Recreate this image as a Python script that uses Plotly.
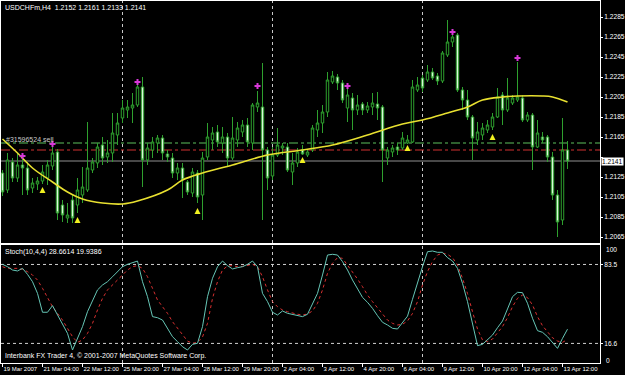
import plotly.graph_objects as go

# ---------------- data ----------------
bars = list(range(114))

open_ = [1.2129,1.2112,1.2140,1.2124,1.2137,1.2134,1.2114,1.2118,1.2121,1.2124,
         1.2136,1.2150,1.2097,1.2084,1.2102,1.2097,1.2107,1.2112,1.2132,1.2139,
         1.2157,1.2145,1.2149,1.2167,1.2184,1.2192,1.2194,1.2197,1.2215,1.2142,
         1.2152,1.2159,1.2164,1.2148,1.2144,1.2129,1.2134,1.2120,1.2109,1.2129,
         1.2107,1.2145,1.2162,1.2170,1.2159,1.2165,1.2144,1.2162,1.2170,1.2177,
         1.2159,1.2195,1.2195,1.2152,1.2126,1.2147,1.2154,1.2155,1.2130,1.2139,
         1.2152,1.2147,1.2152,1.2172,1.2179,1.2190,1.2220,1.2225,1.2219,1.2194,
         1.2204,1.2192,1.2198,1.2192,1.2195,1.2198,1.2195,1.2144,1.2150,1.2155,
         1.2154,1.2159,1.2160,1.2212,1.2224,1.2222,1.2230,1.2226,1.2221,1.2247,
         1.2260,1.2267,1.2212,1.2202,1.2185,1.2162,1.2167,1.2172,1.2175,1.2185,
         1.2207,1.2192,1.2199,1.2202,1.2204,1.2182,1.2187,1.2155,1.2165,1.2165,
         1.2145,1.2107,1.2082,1.2152]
high = [1.2132,1.2149,1.2144,1.2149,1.2144,1.2140,1.2124,1.2125,1.2137,1.2142,
        1.2155,1.2153,1.2102,1.2099,1.2107,1.2124,1.2135,1.2180,1.2144,1.2159,
        1.2165,1.2162,1.2189,1.2189,1.2202,1.2202,1.2209,1.2218,1.2225,1.2159,
        1.2165,1.2167,1.2167,1.2152,1.2149,1.2139,1.2139,1.2122,1.2134,1.2132,
        1.2150,1.2179,1.2175,1.2177,1.2175,1.2169,1.2185,1.2180,1.2182,1.2184,
        1.2199,1.2211,1.2239,1.2155,1.2155,1.2174,1.2159,1.2159,1.2149,1.2154,
        1.2157,1.2153,1.2177,1.2192,1.2197,1.2230,1.2231,1.2228,1.2222,1.2213,
        1.2209,1.2207,1.2200,1.2200,1.2209,1.2210,1.2197,1.2155,1.2157,1.2159,
        1.2170,1.2167,1.2222,1.2225,1.2227,1.2237,1.2234,1.2229,1.2251,1.2282,
        1.2267,1.2269,1.2215,1.2212,1.2187,1.2180,1.2179,1.2182,1.2189,1.2214,
        1.2210,1.2224,1.2207,1.2240,1.2207,1.2190,1.2189,1.2182,1.2170,1.2167,
        1.2150,1.2112,1.2184,1.2161]
low = [1.2106,1.2109,1.2120,1.2120,1.2107,1.2107,1.2109,1.2112,1.2118,1.2117,
       1.2132,1.2082,1.2080,1.2079,1.2079,1.2089,1.2099,1.2110,1.2129,1.2134,
       1.2137,1.2139,1.2140,1.2157,1.2179,1.2184,1.2179,1.2195,1.2115,1.2137,
       1.2144,1.2149,1.2142,1.2140,1.2124,1.2122,1.2104,1.2107,1.2105,1.2099,
       1.2082,1.2142,1.2152,1.2155,1.2149,1.2135,1.2142,1.2155,1.2165,1.2155,
       1.2152,1.2190,1.2082,1.2112,1.2122,1.2145,1.2147,1.2130,1.2117,1.2135,
       1.2147,1.2145,1.2150,1.2165,1.2169,1.2185,1.2218,1.2212,1.2199,1.2180,
       1.2172,1.2187,1.2187,1.2189,1.2187,1.2182,1.2120,1.2137,1.2145,1.2147,
       1.2152,1.2158,1.2159,1.2210,1.2210,1.2220,1.2222,1.2217,1.2219,1.2245,
       1.2255,1.2210,1.2192,1.2182,1.2142,1.2157,1.2162,1.2169,1.2172,1.2184,
       1.2177,1.2190,1.2197,1.2200,1.2180,1.2180,1.2132,1.2154,1.2159,1.2140,
       1.2102,1.2065,1.2077,1.2133]
close = [1.2110,1.2142,1.2124,1.2137,1.2134,1.2112,1.2119,1.2121,1.2130,1.2137,
         1.2149,1.2089,1.2087,1.2087,1.2084,1.2112,1.2115,1.2134,1.2140,1.2155,
         1.2144,1.2149,1.2169,1.2179,1.2194,1.2195,1.2197,1.2215,1.2142,1.2154,
         1.2160,1.2164,1.2149,1.2145,1.2129,1.2134,1.2122,1.2110,1.2130,1.2105,
         1.2144,1.2165,1.2169,1.2160,1.2165,1.2144,1.2164,1.2174,1.2177,1.2160,
         1.2197,1.2199,1.2152,1.2124,1.2147,1.2157,1.2156,1.2132,1.2139,1.2150,
         1.2148,1.2150,1.2174,1.2179,1.2190,1.2222,1.2226,1.2219,1.2202,1.2207,
         1.2192,1.2197,1.2192,1.2196,1.2199,1.2194,1.2152,1.2152,1.2154,1.2152,
         1.2164,1.2162,1.2215,1.2217,1.2214,1.2230,1.2224,1.2221,1.2249,1.2260,
         1.2265,1.2212,1.2202,1.2185,1.2164,1.2170,1.2174,1.2177,1.2185,1.2205,
         1.2192,1.2204,1.2204,1.2205,1.2182,1.2187,1.2155,1.2169,1.2162,1.2145,
         1.2107,1.2080,1.2152,1.2141]

ma_bars = [0, 3, 6, 10, 13, 16, 20, 24, 27, 33, 36, 40, 46, 53, 60, 66, 73,
           80, 84, 89, 93, 96, 100, 103, 108, 110, 113]
ma_vals = [1.2163, 1.2149, 1.2134, 1.2120, 1.2110, 1.2103, 1.2099, 1.2098,
           1.2101, 1.2112, 1.2122, 1.2129, 1.2137, 1.2147, 1.2152, 1.2157,
           1.2167, 1.2178, 1.2182, 1.2189, 1.2195, 1.2202, 1.2205, 1.2206,
           1.2206, 1.2205, 1.2200]

sell_bars = [4, 10, 27, 51, 69, 90, 103]
sell_price = [1.2146, 1.2158, 1.2220, 1.2216, 1.2216, 1.2270, 1.2244]
buy_bars = [8, 15, 39, 60, 81, 98]
buy_price = [1.2115, 1.2085, 1.2094, 1.2145, 1.2157, 1.2168]

stoch_main = [83.6,81.6,78.8,78.0,80.2,75.1,68.9,59.0,43.0,43.0,
              48.6,40.7,33.6,25.1,11.0,20.9,30.8,43.5,52.0,61.9,
              66.1,68.9,73.1,77.4,81.6,83.6,85.3,86.4,68.9,56.2,
              39.3,38.4,36.4,29.4,22.3,18.1,13.8,11.0,15.8,16.7,
              30.8,56.2,71.8,81.6,86.4,82.5,79.7,80.8,81.6,83.6,
              86.4,81.6,59.0,52.0,43.0,40.7,44.1,42.1,41.3,40.7,
              39.3,41.3,49.7,59.0,74.6,91.5,92.1,91.5,85.9,78.8,
              70.3,62.7,55.6,51.4,46.3,40.1,34.5,32.2,29.4,28.8,
              34.0,39.7,54.0,68.9,81.6,94.3,94.9,93.8,93.8,89.3,
              86.4,80.2,67.5,52.0,33.6,14.7,15.8,20.1,23.7,29.9,
              35.6,45.8,56.2,59.9,59.6,50.6,37.9,27.4,26.0,22.3,
              17.5,12.4,20.9,28.66]
stoch_signal = [81.6,80.2,80.2,80.2,79.4,77.4,74.6,70.3,63.3,54.8,
                47.7,42.1,36.4,29.4,22.3,17.5,19.5,25.1,33.6,44.9,
                54.8,61.9,66.1,70.3,74.6,78.8,81.6,82.5,80.2,73.1,
                63.3,53.4,47.7,42.1,35.0,29.4,23.7,18.6,16.7,17.5,
                22.0,33.6,54.8,68.9,78.8,82.2,82.5,81.6,81.9,83.0,
                83.6,81.6,73.1,61.9,52.0,47.7,44.9,43.5,42.1,41.3,
                40.7,41.5,44.1,50.6,61.9,76.0,84.5,89.3,88.7,83.0,
                76.8,71.2,64.7,57.6,52.0,46.9,41.3,36.4,33.6,32.2,
                32.8,35.6,42.0,52.0,66.1,77.4,85.9,91.5,93.0,92.1,
                89.3,83.0,71.8,59.0,43.5,28.8,19.5,18.1,20.3,25.1,
                30.8,38.4,47.7,54.8,57.6,55.4,49.2,39.3,31.6,26.5,
                21.4,18.6,17.5,19.94]

price_ticks = [1.2065, 1.2085, 1.2105, 1.2125, 1.2145, 1.2165,
               1.2185, 1.2205, 1.2225, 1.2245, 1.2265, 1.2285]
time_tick_bars = [0, 8, 16, 24, 32, 40, 48, 56, 64, 72, 80, 88, 96, 104, 112]
time_tick_text = ["19 Mar 2007", "21 Mar 04:00", "22 Mar 12:00", "25 Mar 20:00",
                  "27 Mar 04:00", "28 Mar 12:00", "29 Mar 20:00", "2 Apr 04:00",
                  "3 Apr 12:00", "4 Apr 20:00", "6 Apr 04:00", "9 Apr 12:00",
                  "10 Apr 20:00", "12 Apr 04:00", "13 Apr 12:00"]
week_sep_bars = [24, 54, 84]
order_line = 1.2159
stop_line = 1.2152
bid_line = 1.2141
stoch_levels = [83.5, 16.6]

# ---------------- figure ----------------
FONT = "Liberation Sans Narrow, Arial Narrow, Liberation Sans, Arial, sans-serif"
GREEN = "#2ea02e"

fig = go.Figure()
fig.add_trace(go.Candlestick(
    x=bars, open=open_, high=high, low=low, close=close,
    increasing=dict(line=dict(color=GREEN, width=1), fillcolor="#000000"),
    decreasing=dict(line=dict(color=GREEN, width=1), fillcolor="#d8f8d8"),
    whiskerwidth=0, xaxis="x", yaxis="y", showlegend=False, hoverinfo="skip"))
fig.add_trace(go.Scatter(x=ma_bars, y=ma_vals, mode="lines",
                         line=dict(color="#e8e030", width=1.6, shape="spline"),
                         xaxis="x", yaxis="y", showlegend=False, hoverinfo="skip"))
fig.add_trace(go.Scatter(x=sell_bars, y=sell_price, mode="markers",
                         marker=dict(symbol="cross", size=5, color="#d838d8"),
                         xaxis="x", yaxis="y", showlegend=False, hoverinfo="skip"))
fig.add_trace(go.Scatter(x=buy_bars, y=buy_price, mode="markers",
                         marker=dict(symbol="arrow-up", size=6, color="#f0f020"),
                         xaxis="x", yaxis="y", showlegend=False, hoverinfo="skip"))
fig.add_trace(go.Scatter(x=bars, y=stoch_signal, mode="lines",
                         line=dict(color="#d83030", width=1, dash="dot"),
                         xaxis="x2", yaxis="y2", showlegend=False, hoverinfo="skip"))
fig.add_trace(go.Scatter(x=bars, y=stoch_main, mode="lines",
                         line=dict(color="#66c6b6", width=1),
                         xaxis="x2", yaxis="y2", showlegend=False, hoverinfo="skip"))

shapes = []
for b in week_sep_bars:
    shapes.append(dict(type="line", xref="x", yref="paper", x0=b, x1=b, y0=0, y1=1,
                       line=dict(color="#c8c8c8", width=1, dash="dot"), layer="below"))
shapes.append(dict(type="line", xref="paper", yref="y", x0=0, x1=1, y0=order_line, y1=order_line,
                   line=dict(color="#5cc05c", width=1, dash="dashdot"), layer="below"))
shapes.append(dict(type="line", xref="paper", yref="y", x0=0, x1=1, y0=stop_line, y1=stop_line,
                   line=dict(color="#d03030", width=1, dash="dashdot"), layer="below"))
shapes.append(dict(type="line", xref="paper", yref="y", x0=0, x1=1, y0=bid_line, y1=bid_line,
                   line=dict(color="#909090", width=1), layer="below"))
for lv in stoch_levels:
    shapes.append(dict(type="line", xref="paper", yref="y2", x0=0, x1=1, y0=lv, y1=lv,
                       line=dict(color="#d0d0d0", width=1, dash="dot"), layer="below"))

tf = dict(family=FONT, size=7, color="#ffffff")
axf = dict(family=FONT, size=6.6, color="#ffffff")
xf = dict(family=FONT, size=6, color="#ffffff")
annotations = [
    dict(text="USDCHFm,H4  1.2152 1.2161 1.2133 1.2141", xref="paper", yref="paper",
         x=0, y=1, xanchor="left", yanchor="top", xshift=2, yshift=-1, showarrow=False, font=tf),
    dict(text="#31596524 sell", xref="paper", yref="y", x=0, y=1.2163,
         xanchor="left", yanchor="middle", xshift=3, showarrow=False,
         font=dict(family=FONT, size=7, color="#c8c8c8")),
    dict(text="Stoch(10,4,4) 28.6614 19.9386", xref="paper", yref="paper",
         x=0, y=0.326, xanchor="left", yanchor="top", xshift=2, yshift=-1, showarrow=False, font=tf),
    dict(text="Interbank FX Trader 4, © 2001-2007 MetaQuotes Software Corp.", xref="paper",
         yref="paper", x=0, y=0, xanchor="left", yanchor="bottom", xshift=2, yshift=1,
         showarrow=False, font=tf),
    dict(text="1.2141", xref="paper", yref="y", x=1, y=bid_line, xanchor="left",
         yanchor="middle", xshift=1, showarrow=False, bgcolor="#ffffff",
         font=dict(family=FONT, size=6.6, color="#000000"), borderpad=0),
    dict(text="100", xref="paper", yref="y2", x=1, y=96.5, xanchor="left", yanchor="middle",
         xshift=4, showarrow=False, font=axf),
    dict(text="0", xref="paper", yref="y2", x=1, y=2.5, xanchor="left", yanchor="middle",
         xshift=4, showarrow=False, font=axf),
]

# the 1.2145 label sits behind the bid-price box, as in the terminal
price_tick_text = ["" if abs(v - 1.2145) < 1e-9 else f"{v:.4f}" for v in price_ticks]

fig.update_layout(
    width=625, height=375,
    margin=dict(l=1, r=25, t=1, b=12),
    paper_bgcolor="#000000", plot_bgcolor="#000000",
    font=dict(family=FONT, size=7, color="#ffffff"),
    showlegend=False,
    shapes=shapes, annotations=annotations,
    xaxis=dict(domain=[0, 1], range=[-0.3, 119.5], anchor="y", showticklabels=False,
               showgrid=False, zeroline=False, showline=True, mirror=True,
               linecolor="#ffffff", linewidth=1, rangeslider=dict(visible=False),
               ticks="", automargin=False),
    yaxis=dict(domain=[0.3315, 1], range=[1.2059, 1.2301], side="right", anchor="x",
               tickvals=price_ticks, ticktext=price_tick_text,
               ticks="outside", ticklen=2, tickcolor="#ffffff", showgrid=False,
               zeroline=False, showline=True, mirror=True, linecolor="#ffffff",
               linewidth=1, tickfont=axf, automargin=False),
    xaxis2=dict(domain=[0, 1], range=[-0.3, 119.5], anchor="y2",
                tickvals=time_tick_bars, ticktext=time_tick_text, tickangle=0,
                ticks="outside", ticklen=3, tickcolor="#ffffff",
                ticklabelposition="outside right", tickfont=xf,
                showgrid=False, zeroline=False, showline=True, mirror=True,
                linecolor="#ffffff", linewidth=1, automargin=False),
    yaxis2=dict(domain=[0, 0.326], range=[0, 100], side="right", anchor="x2",
                tickvals=stoch_levels, ticktext=["83.5", "16.6"],
                ticks="outside", ticklen=2, tickcolor="#ffffff", tickfont=axf,
                showgrid=False, zeroline=False, showline=True, mirror=True,
                linecolor="#ffffff", linewidth=1, automargin=False),
)

fig.write_html("out.html")
